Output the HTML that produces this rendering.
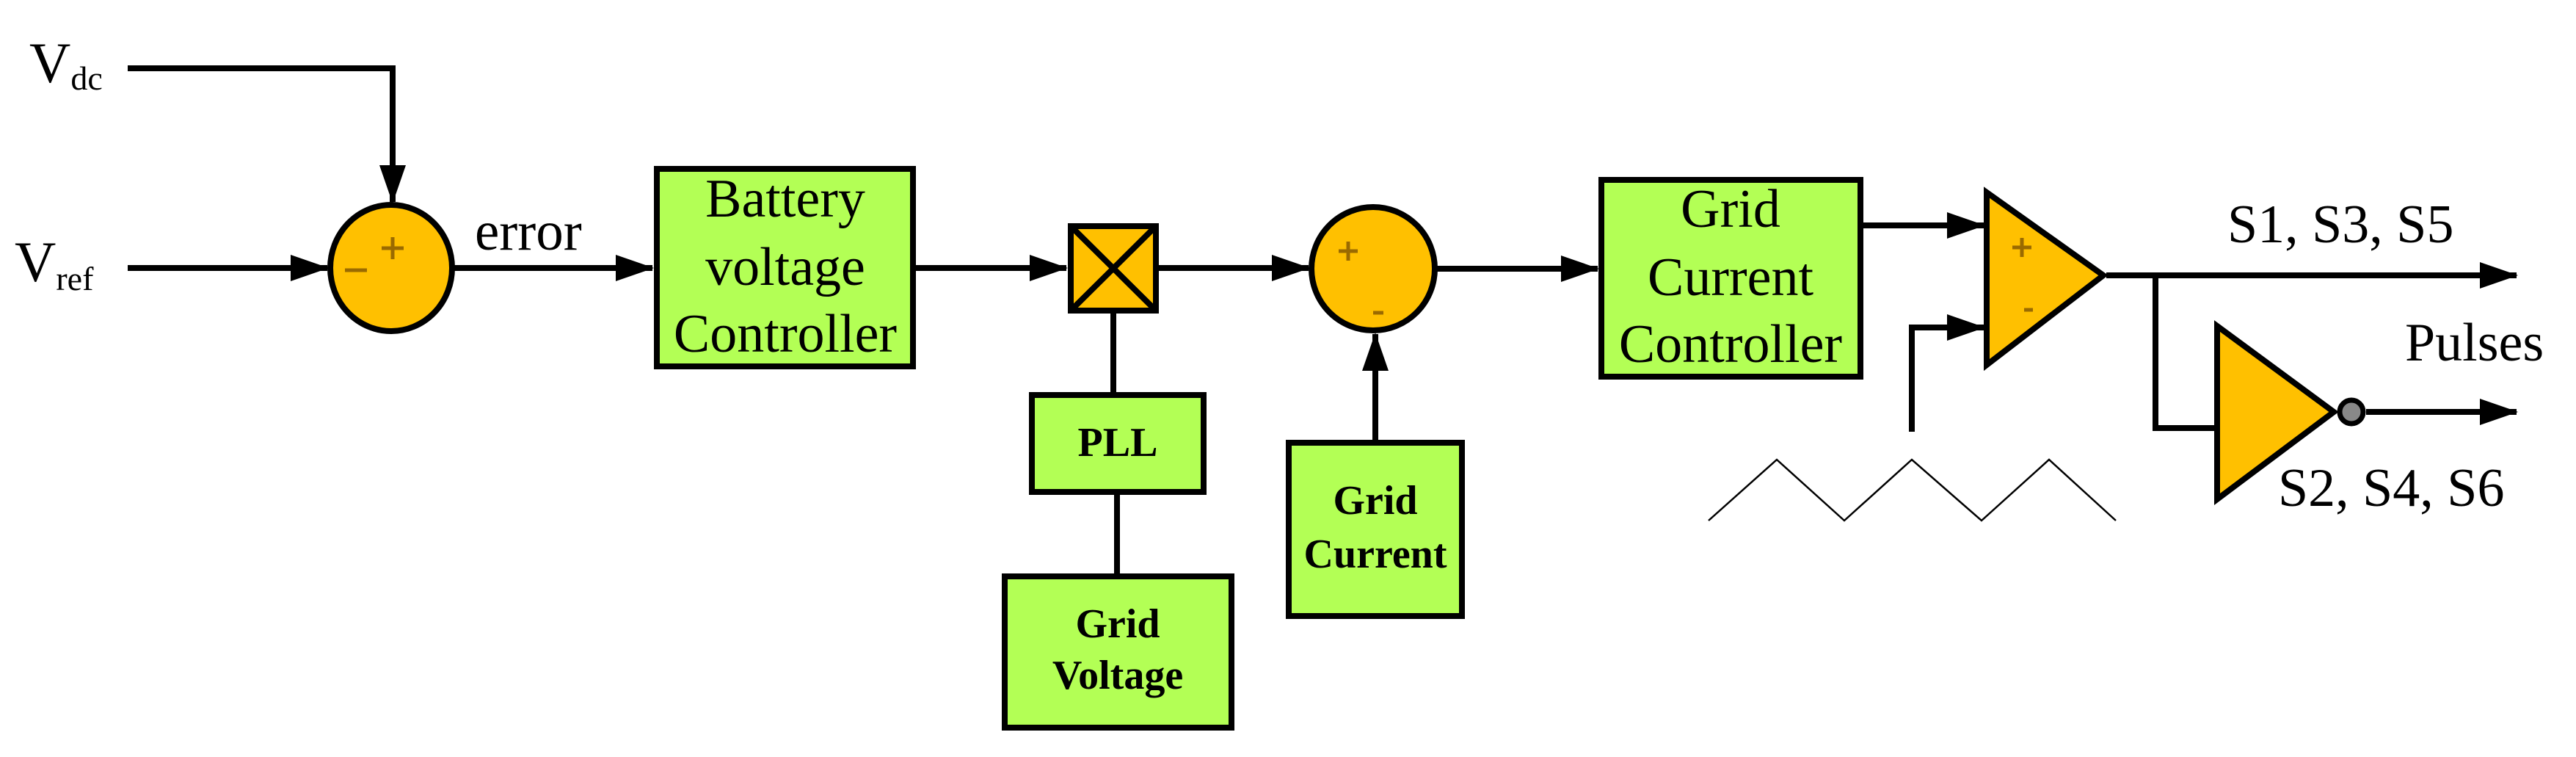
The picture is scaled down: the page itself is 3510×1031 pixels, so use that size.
<!DOCTYPE html>
<html><head><meta charset="utf-8"><style>
html,body{margin:0;padding:0;background:#fff;}
svg{display:block;font-family:"Liberation Serif","Times New Roman",serif;}
svg text{font-family:"Liberation Serif","Times New Roman",serif;fill:#000;}
</style></head><body>
<svg width="3510" height="1031" viewBox="0 0 3510 1031" xmlns="http://www.w3.org/2000/svg" font-family="Liberation Serif, Times New Roman, serif">
<defs>
<marker id="a" markerUnits="userSpaceOnUse" markerWidth="52" markerHeight="40" refX="50" refY="18" orient="auto">
<path d="M0,0 L52,18 L0,36 Z" fill="#000"/>
</marker>
</defs>
<g stroke="#000" stroke-width="8" fill="none">
<polyline points="174,93 535,93 535,275" marker-end="url(#a)"/>
<line x1="174" y1="365" x2="446" y2="365" marker-end="url(#a)"/>
<line x1="618" y1="365" x2="889" y2="365" marker-end="url(#a)"/>
<line x1="1248" y1="365" x2="1453" y2="365" marker-end="url(#a)"/>
<line x1="1579" y1="365" x2="1783" y2="365" marker-end="url(#a)"/>
<line x1="1958" y1="366" x2="2177" y2="366" marker-end="url(#a)"/>
<line x1="1517" y1="427" x2="1517" y2="534"/>
<line x1="1522" y1="674" x2="1522" y2="781"/>
<line x1="1874" y1="599" x2="1874" y2="455" marker-end="url(#a)"/>
<line x1="2539" y1="307" x2="2703" y2="307" marker-end="url(#a)"/>
<polyline points="2605,588 2605,446 2703,446" marker-end="url(#a)"/>
<line x1="2870" y1="375" x2="3429" y2="375" marker-end="url(#a)"/>
<polyline points="2937,375 2937,583 3017,583"/>
<line x1="3224" y1="561" x2="3429" y2="561" marker-end="url(#a)"/>
</g>
<ellipse cx="533" cy="365" rx="83" ry="86" fill="#ffc000" stroke="#000" stroke-width="8"/>
<g stroke="#9a6a00" stroke-width="5">
<line x1="520" y1="338" x2="550" y2="338"/><line x1="535" y1="323" x2="535" y2="353"/>
<line x1="470" y1="368" x2="500" y2="368"/>
</g>
<ellipse cx="1871" cy="366" rx="84" ry="84" fill="#ffc000" stroke="#000" stroke-width="8"/>
<g stroke="#9a6a00" stroke-width="5">
<line x1="1824" y1="342" x2="1850" y2="342"/><line x1="1837" y1="329" x2="1837" y2="355"/>
<line x1="1871" y1="426" x2="1885" y2="426"/>
</g>
<rect x="1459" y="308" width="116" height="115" fill="#ffc000" stroke="#000" stroke-width="8"/>
<g stroke="#000" stroke-width="8"><line x1="1461" y1="310" x2="1573" y2="421"/><line x1="1573" y1="310" x2="1461" y2="421"/></g>
<g fill="#b3ff55" stroke="#000" stroke-width="8">
<rect x="895" y="230" width="349" height="269"/>
<rect x="1406" y="538" width="234" height="132"/>
<rect x="1369" y="785" width="309" height="206"/>
<rect x="1756" y="603" width="236" height="236"/>
<rect x="2182" y="245" width="353" height="268"/>
</g>
<polygon points="2707,262 2866,375 2707,497" fill="#ffc000" stroke="#000" stroke-width="8"/>
<g stroke="#9a6a00" stroke-width="5">
<line x1="2742" y1="337" x2="2768" y2="337"/><line x1="2755" y1="324" x2="2755" y2="350"/>
<line x1="2758" y1="422" x2="2770" y2="422"/>
</g>
<polygon points="3021,444 3180,561 3021,680" fill="#ffc000" stroke="#000" stroke-width="8"/>
<circle cx="3204" cy="561" r="16" fill="#888" stroke="#000" stroke-width="7"/>
<polyline points="2328,709 2421,626 2513,709 2605,626 2700,709 2792,626 2883,709" fill="none" stroke="#000" stroke-width="2.5"/>
<g font-family="Liberation Serif, Times New Roman, serif">
<text x="40" y="112" font-size="78">V<tspan font-size="46" dy="10">dc</tspan></text>
<text x="20" y="383" font-size="78">V<tspan font-size="46" dy="12">ref</tspan></text>
<text x="647" y="340" font-size="75">error</text>
<g font-size="74" text-anchor="middle">
<text x="1070" y="295">Battery</text>
<text x="1070" y="388">voltage</text>
<text x="1070" y="479">Controller</text>
<text x="2358" y="309">Grid</text>
<text x="2358" y="402">Current</text>
<text x="2358" y="493">Controller</text>
</g>
<g font-size="56" text-anchor="middle" font-weight="bold">
<text x="1523" y="621">PLL</text>
<text x="1523" y="868">Grid</text>
<text x="1523" y="938">Voltage</text>
<text x="1874" y="700">Grid</text>
<text x="1874" y="773">Current</text>
</g>
<text x="3035" y="330" font-size="74">S1, S3, S5</text>
<text x="3277" y="491" font-size="74">Pulses</text>
<text x="3104" y="689" font-size="74">S2, S4, S6</text>
</g>
</svg>
</body></html>
